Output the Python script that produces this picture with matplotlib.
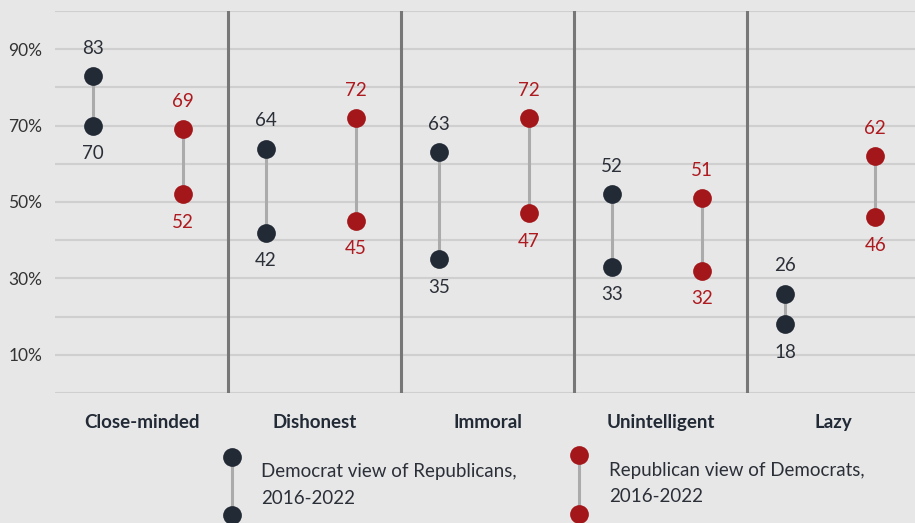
import matplotlib
matplotlib.use('Agg')
import matplotlib.pyplot as plt

# data
categories = ["Close-minded", "Dishonest", "Immoral", "Unintelligent", "Lazy"]
dem_2016 = [70, 42, 35, 33, 18]
dem_2022 = [83, 64, 63, 52, 26]
rep_2016 = [52, 45, 47, 32, 46]
rep_2022 = [69, 72, 72, 51, 62]
yticks = [10, 30, 50, 70, 90]

BG = '#e7e7e7'
DARK = '#222a36'
RED = '#a3161a'
RED_TXT = '#ad1a1f'
LINE = '#ababab'
GRID = '#cfcfcf'
SEP = '#777777'
FONT = 'Lato'

W, H = 915, 523
fig = plt.figure(figsize=(W / 100, H / 100), dpi=100)
fig.patch.set_facecolor(BG)
ax = fig.add_axes([55 / W, (H - 393) / H, 860 / W, 382 / H])
ax.set_facecolor(BG)
ax.set_xlim(-0.5, 4.47)
ax.set_ylim(0, 100)
for s in ax.spines.values():
    s.set_visible(False)

for g in range(0, 101, 10):
    ax.axhline(g, color=GRID, lw=1.5, zorder=0)
for i in range(1, len(categories)):
    ax.axvline(i - 0.5, color=SEP, lw=2.2, zorder=1)

ax.set_yticks(yticks)
ax.set_yticklabels([f"{v}%" for v in yticks], fontsize=12.5, color='#333333', family=FONT)
ax.tick_params(axis='y', length=0, pad=9)
ax.set_xticks(range(len(categories)))
ax.set_xticklabels(categories, fontsize=13.5, fontweight='bold', color=DARK, family=FONT)
ax.tick_params(axis='x', length=0, pad=15)

def dumbbell(xs, lo, hi, color, tcolor):
    for x, a, b in zip(xs, lo, hi):
        ax.plot([x, x], [a, b], color=LINE, lw=2.2, zorder=2)
        ax.plot([x, x], [a, b], 'o', color=color, ms=13.5, zorder=3, mec='none')
        top, bot = max(a, b), min(a, b)
        ax.annotate(f"{top}", (x, top), xytext=(0, 20), textcoords='offset points',
                    ha='center', va='center', fontsize=13.5, color=tcolor, family=FONT)
        ax.annotate(f"{bot}", (x, bot), xytext=(0, -20), textcoords='offset points',
                    ha='center', va='center', fontsize=13.5, color=tcolor, family=FONT)

xs = list(range(len(categories)))
dumbbell([x - 0.28 for x in xs], dem_2016, dem_2022, DARK, '#2b2f38')
dumbbell([x + 0.24 for x in xs], rep_2016, rep_2022, RED, RED_TXT)

# legend drawn in pixel space
lg = fig.add_axes([0, 0, 1, 1])
lg.set_xlim(0, W)
lg.set_ylim(H, 0)
lg.axis('off')
lg.patch.set_alpha(0)
for x, y1, y2, c, tx, label in [
    (232, 457, 515, DARK, 261, "Democrat view of Republicans,\n2016-2022"),
    (579, 455, 514, RED, 609, "Republican view of Democrats,\n2016-2022"),
]:
    lg.plot([x, x], [y1, y2], color=LINE, lw=2.2, zorder=2)
    lg.plot([x, x], [y1, y2], 'o', color=c, ms=13.5, mec='none', zorder=3, clip_on=False)
    lg.text(tx, (y1 + y2) / 2 - 1, label, ha='left', va='center', fontsize=13.5,
            color='#2b2f38', family=FONT, linespacing=1.7)

fig.savefig('out.png', dpi=100, facecolor=BG)
